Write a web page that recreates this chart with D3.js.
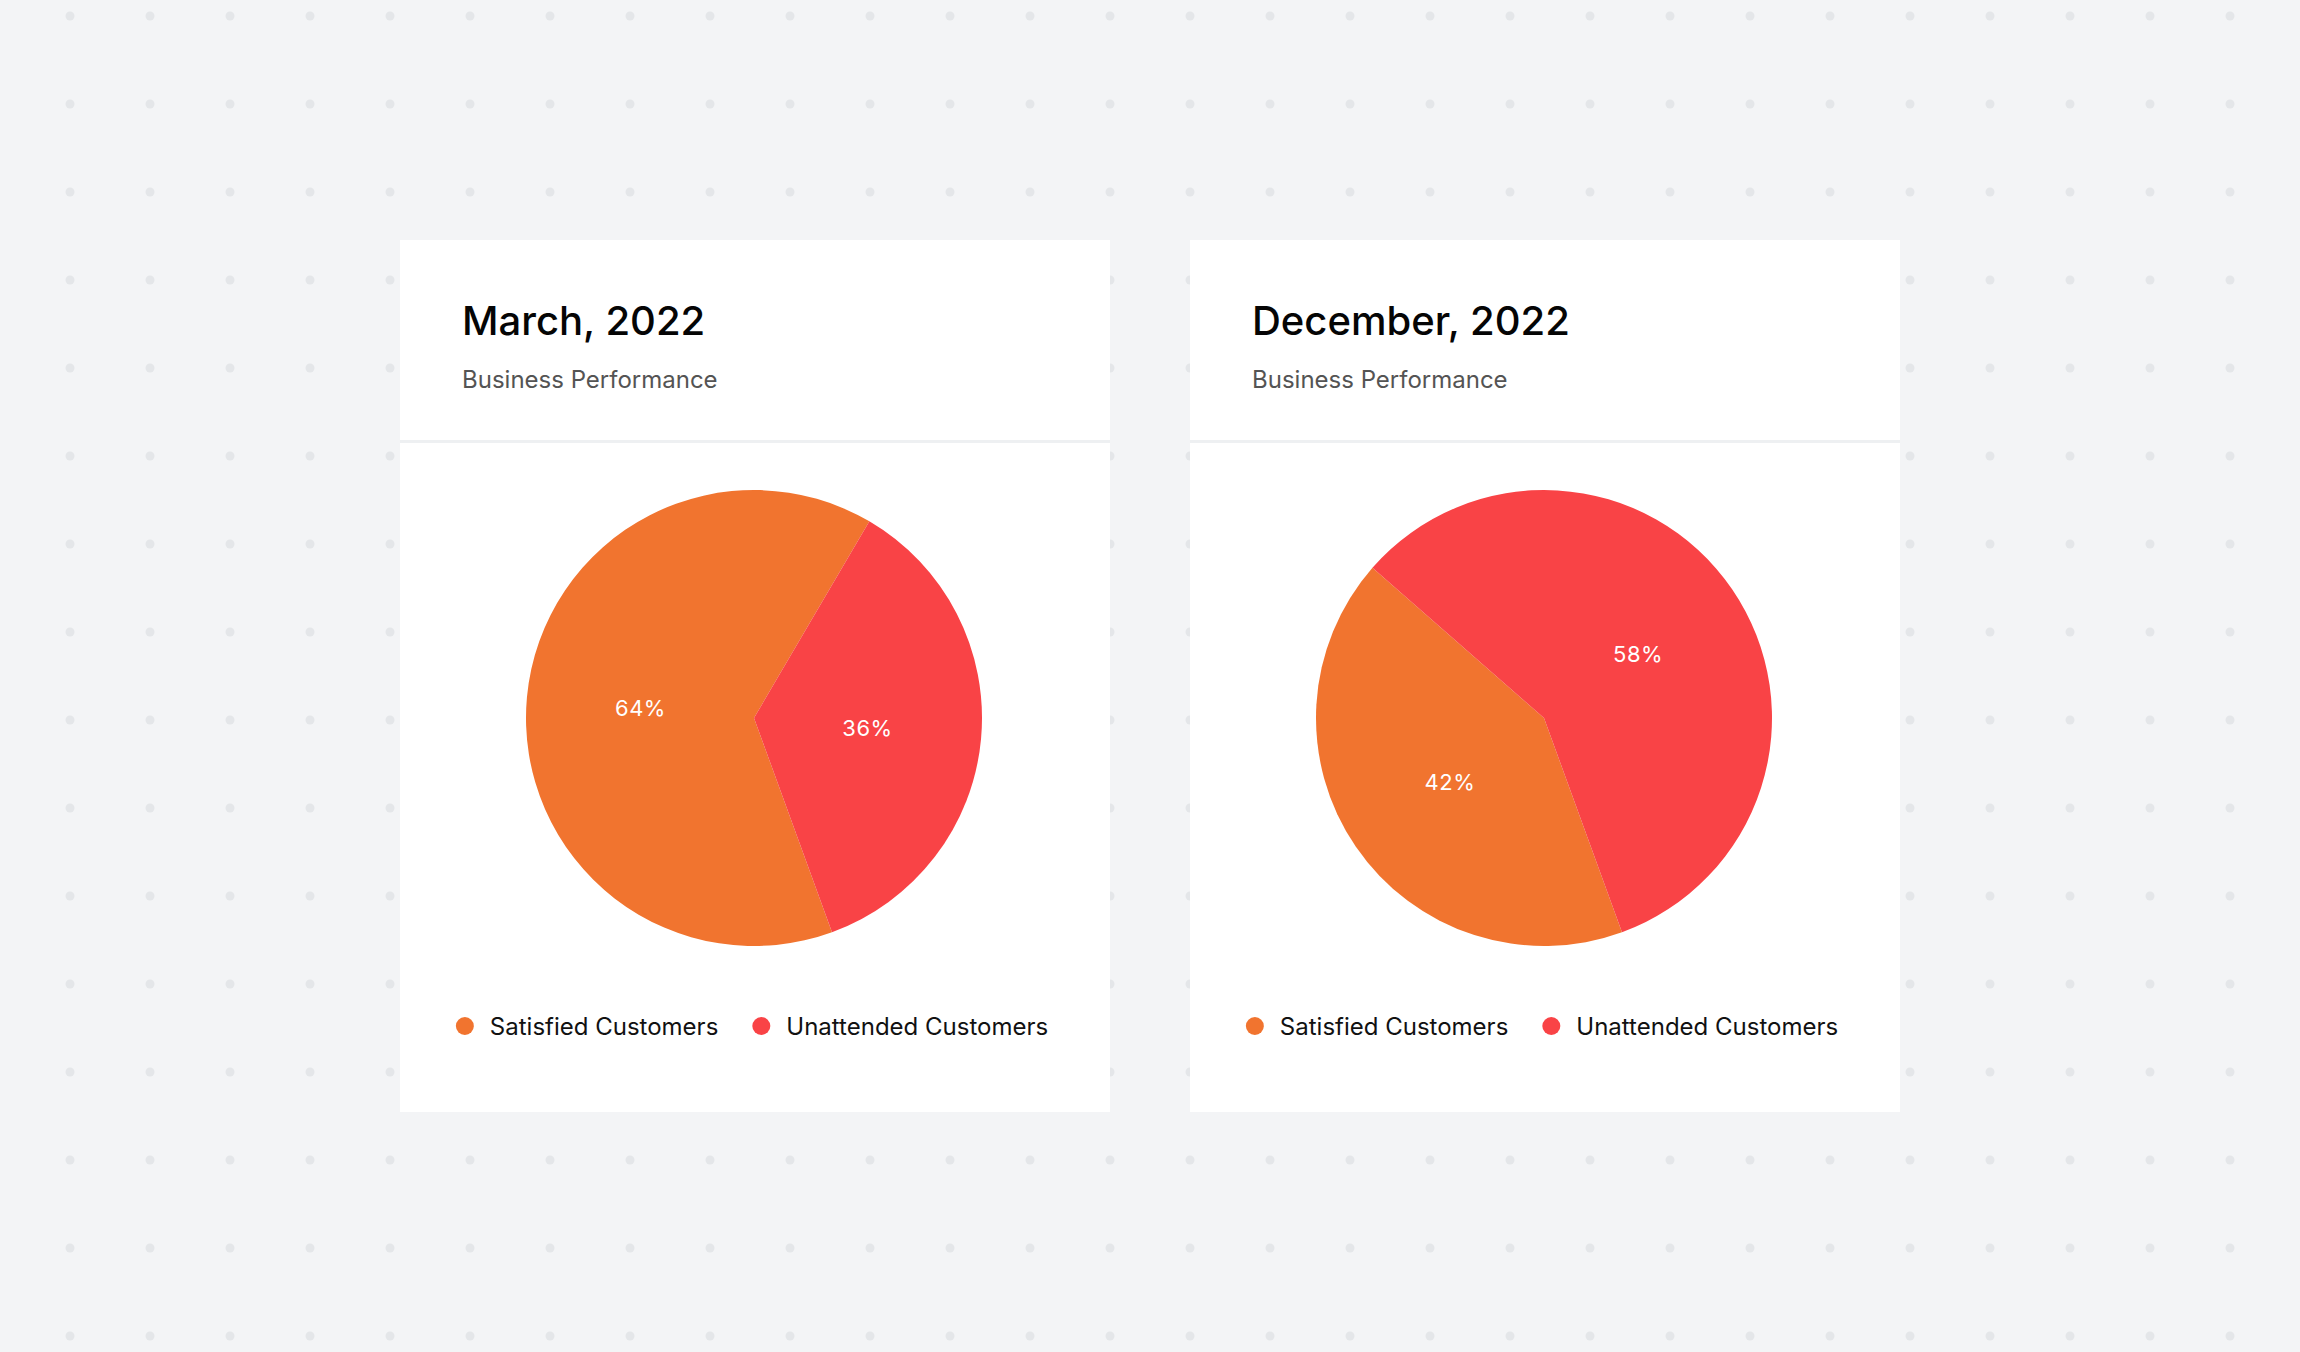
<!DOCTYPE html>
<html>
<head>
<meta charset="utf-8">
<script src="https://cdn.jsdelivr.net/npm/d3@7"></script>
<style>
  html, body { margin: 0; padding: 0; background: #f3f4f6; }
  svg { display: block; font-family: "Inter", "Noto Sans", sans-serif; }
</style>
</head>
<body>
<div id="container"></div>
<script>
// chart data
var months = ["March, 2022", "December, 2022"],
    subtitle = "Business Performance",
    categories = ["Satisfied Customers", "Unattended Customers"],
    satisfied = [64, 42],
    unattended = [36, 58];

// general settings
var width = 2300, height = 1352,
    col = {bg: "#f3f4f6", dot: "#e4e6e9", card: "#ffffff", title: "#050505", sub: "#545454"},
    sliceCol = ["#f1742f", "#f94346"],
    card = {w: 710, h: 872, top: 240, lefts: [400, 1190], header: 200},
    radius = 228,
    startDeg = 160;

var svg = d3.select("#container")
    .append("svg")
    .attr("width", width)
    .attr("height", height);

svg.append("rect")
    .attr("width", width)
    .attr("height", height)
    .attr("fill", col.bg);

// dotted background
var dotX = d3.range(70, 2231, 80),
    dotY = d3.range(16, 1340, 88);
var dots = svg.append("g").attr("id", "dots");
dotY.forEach(function(y) {
    dots.selectAll(null)
        .data(dotX)
        .enter()
        .append("circle")
            .attr("cx", function(d) { return d; })
            .attr("cy", y)
            .attr("r", 4.5)
            .attr("fill", col.dot);
});

var color = d3.scaleOrdinal().domain(categories).range(sliceCol);

var pie = d3.pie()
    .sort(null)
    .value(function(d) { return d.value; })
    .startAngle(startDeg * Math.PI / 180)
    .endAngle(startDeg * Math.PI / 180 + 2 * Math.PI);

var arc = d3.arc().innerRadius(0).outerRadius(radius);

months.forEach(function(m, i) {
    var slices = [
        {name: categories[0], value: satisfied[i]},
        {name: categories[1], value: unattended[i]}
    ];
    var g = svg.append("g")
        .attr("class", "card")
        .attr("transform", "translate(" + card.lefts[i] + "," + card.top + ")");

    g.append("rect")
        .attr("width", card.w)
        .attr("height", card.h)
        .attr("fill", col.card);
    // divider between header and body
    g.append("rect")
        .attr("y", card.header)
        .attr("width", card.w)
        .attr("height", 3)
        .attr("fill", "#eef0f2");

    g.append("text")
        .attr("x", 62)
        .attr("y", 95)
        .attr("font-size", 40)
        .attr("font-weight", 500)
        .attr("fill", col.title)
        .text(m);

    g.append("text")
        .attr("x", 62)
        .attr("y", 148)
        .attr("font-size", 24)
        .attr("fill", col.sub)
        .text(subtitle);

    // pie
    var p = g.append("g")
        .attr("transform", "translate(" + (card.w / 2 - 1) + "," + 478 + ")");

    p.selectAll("path")
        .data(pie(slices))
        .enter()
        .append("path")
            .attr("d", arc)
            .attr("fill", function(d) { return color(d.data.name); });

    p.selectAll(".lbl")
        .data(pie(slices))
        .enter()
        .append("text")
            .attr("class", "lbl")
            .attr("transform", function(d) { return "translate(" + arc.centroid(d) + ")"; })
            .attr("text-anchor", "middle")
            .attr("dy", "0.36em")
            .attr("font-size", 22)
            .attr("letter-spacing", 0.5)
            .attr("fill", "#ffffff")
            .text(function(d) { return d.data.value + "%"; });

    // legend
    var leg = g.append("g").attr("class", "legend");
    var items = leg.selectAll("g")
        .data(categories)
        .enter()
        .append("g");
    items.append("circle")
        .attr("r", 9)
        .attr("cy", 0)
        .attr("fill", function(d) { return color(d); });
    items.append("text")
        .attr("x", 25)
        .attr("dy", "0.36em")
        .attr("font-size", 24)
        .attr("fill", "#111")
        .text(function(d) { return d; });
    // lay out legend items side by side, centered
    var xs = 0, pos = [];
    items.each(function() {
        pos.push(xs);
        xs += this.getBBox().width + 34;
    });
    xs -= 34;
    items.attr("transform", function(d, j) { return "translate(" + pos[j] + ",0)"; });
    leg.attr("transform", "translate(" + ((card.w - xs) / 2 + 6) + "," + 786 + ")");
});
</script>
</body>
</html>
